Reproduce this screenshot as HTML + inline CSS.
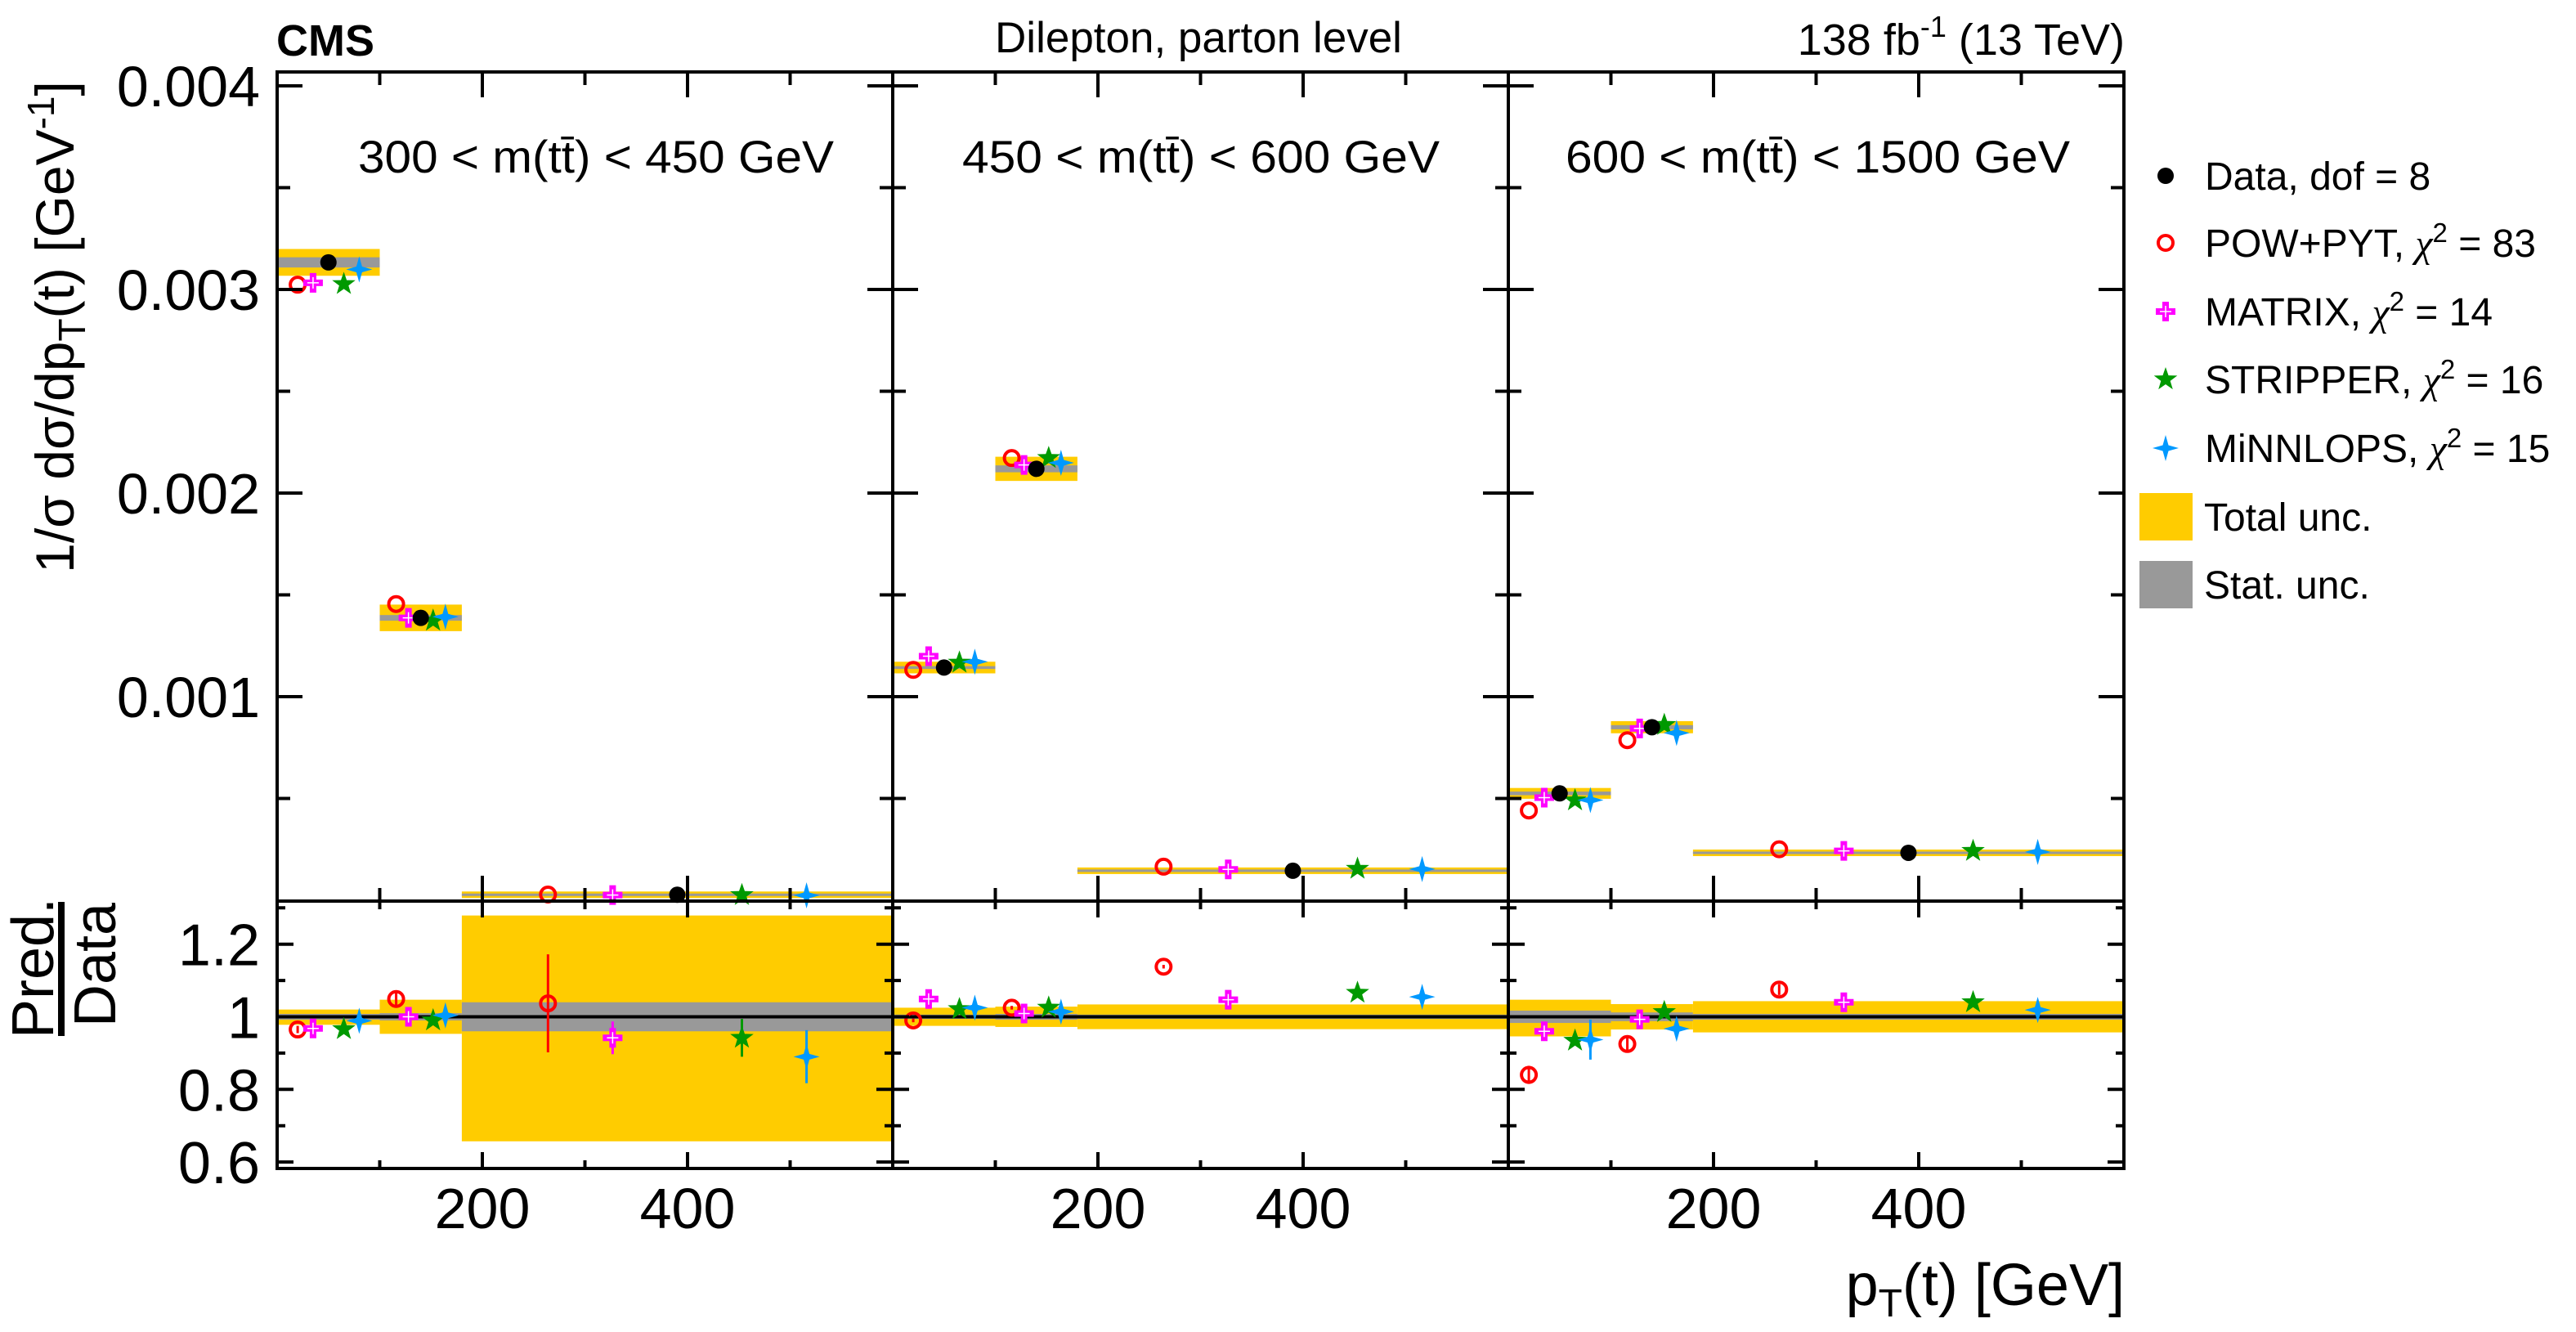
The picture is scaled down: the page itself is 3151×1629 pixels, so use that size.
<!DOCTYPE html>
<html><head><meta charset="utf-8"><style>
html,body{margin:0;padding:0;background:#fff;}
svg{display:block;font-family:"Liberation Sans",Arial,sans-serif;}
</style></head><body>
<svg id="chart" width="3151" height="1629" viewBox="0 0 3151 1629" xmlns="http://www.w3.org/2000/svg">
<g id="bands"></g>
<g id="marks"></g>
<g id="frames"></g>
<g id="labels">
<text x="338" y="68" font-size="54" font-weight="bold">CMS</text>
<text x="1466" y="64" font-size="53" text-anchor="middle">Dilepton, parton level</text>
<text x="2599" y="67" font-size="54" text-anchor="end">138 fb<tspan dy="-22" font-size="36">-1</tspan><tspan dy="22"> (13 TeV)</tspan></text>
<text transform="translate(90,400) rotate(-90)" font-size="66" text-anchor="middle">1/σ dσ/dp<tspan dy="14" font-size="46">T</tspan><tspan dy="-14">(t)  [GeV</tspan><tspan dy="-24" font-size="46">-1</tspan><tspan dy="24">]</tspan></text>
<text transform="translate(65,1184) rotate(-90)" font-size="72" text-anchor="middle">Pred.</text>
<rect x="71" y="1103" width="8" height="164" fill="#000"/>
<text transform="translate(141,1180) rotate(-90)" font-size="72" text-anchor="middle">Data</text>
<text x="2599" y="1596" font-size="72" text-anchor="end">p<tspan dy="14" font-size="48">T</tspan><tspan dy="-14">(t) [GeV]</tspan></text>
</g>
<g id="legend"></g>
</svg>
<script>
// ---- data ----
const panelLabels = ["300 < m(tt\u0304) < 450 GeV", "450 < m(tt\u0304) < 600 GeV", "600 < m(tt\u0304) < 1500 GeV"];
const binEdges = [0, 100, 180, 600];
const dataValues = [[0.003133, 0.001387, 0.000027], [0.001143, 0.002119, 0.000145], [0.000525, 0.00085, 0.000233]];
const totalUp = [[0.02, 0.047, 0.279], [0.025, 0.028, 0.034], [0.047, 0.035, 0.043]];
const totalDown = [[0.022, 0.047, 0.343], [0.025, 0.028, 0.034], [0.054, 0.035, 0.043]];
const statUnc = [[0.008, 0.01, 0.04], [0.006, 0.008, 0.006], [0.017, 0.012, 0.008]];
const powRatio = [[0.965, 1.049, 1.037], [0.99, 1.025, 1.138], [0.84, 0.925, 1.075]];
const matrixRatio = [[0.968, 1.0, 0.942], [1.049, 1.009, 1.047], [0.96, 0.993, 1.04]];
const stripperRatio = [[0.966, 0.99, 0.942], [1.021, 1.025, 1.066], [0.934, 1.013, 1.04]];
const minnlopsRatio = [[0.989, 1.004, 0.89], [1.025, 1.014, 1.055], [0.937, 0.967, 1.019]];
const powErr = [[0.01, 0.02, 0.135], [0.005, 0.005, 0.005], [0.025, 0.018, 0.015]];
const matrixErr = [[0.005, 0.005, 0.045], [0.005, 0.005, 0.005], [0.01, 0.005, 0.005]];
const stripperErr = [[0.005, 0.005, 0.052], [0.005, 0.005, 0.005], [0.01, 0.005, 0.005]];
const minnlopsErr = [[0.01, 0.02, 0.073], [0.005, 0.005, 0.005], [0.055, 0.01, 0.005]];
const yTicksTop = [0.001, 0.002, 0.003, 0.004];
const yTicksRatio = [0.6, 0.8, 1, 1.2];
const xTickLabels = [200, 400];
const legendLabels = ["Data, dof = 8", "POW+PYT, ", "MATRIX, ", "STRIPPER, ", "MiNNLOPS, "];
const chi2Values = [null, 83, 14, 16, 15];

// ---- geometry ----
const NS = "http://www.w3.org/2000/svg";
const panelX0 = [339, 1092, 1845], panelW = 753, xMax = 600;
const topY0 = 88, topY1 = 1102, ratioY1 = 1429;
const xs = (p, v) => panelX0[p] + v / xMax * panelW;
const yTop = v => 1101 - v * 249000;
const yRat = r => 1243.5 - (r - 1) * 444;
const YELLOW = "#ffcc00", GRAY = "#999999";
const models = [
  {r: powRatio, e: powErr, color: "#ff0000", shape: "circle", frac: 0.2, name: "pow-pyt"},
  {r: matrixRatio, e: matrixErr, color: "#ff00ff", shape: "cross", frac: 0.35, name: "matrix"},
  {r: stripperRatio, e: stripperErr, color: "#009900", shape: "star", frac: 0.65, name: "stripper"},
  {r: minnlopsRatio, e: minnlopsErr, color: "#0099ff", shape: "star4", frac: 0.8, name: "minnlops"}
];
function el(tag, attrs, parent) {
  const e = document.createElementNS(NS, tag);
  for (const k in attrs) e.setAttribute(k, attrs[k]);
  parent.appendChild(e); return e;
}
const bands = document.getElementById("bands"), marks = document.getElementById("marks"),
      frames = document.getElementById("frames"), labels = document.getElementById("labels"),
      legend = document.getElementById("legend");

function marker(shape, color, x, y, parent) {
  let m;
  if (shape === "dot") m = el("circle", {cx: x, cy: y, r: 10, fill: "#000"}, parent);
  else if (shape === "circle") m = el("circle", {cx: x, cy: y, r: 9, fill: "none", stroke: color, "stroke-width": 4}, parent);
  else if (shape === "cross") {
    m = el("g", {}, parent);
    el("path", {d: `M${x-4},${y-12}h8v8h8v8h-8v8h-8v-8h-8v-8h8z`, fill: color}, m);
    el("path", {d: `M${x},${y-7}v14M${x-7},${y}h14`, stroke: "#fff", "stroke-width": 1.5}, m);
  } else if (shape === "star") {
    let d = "";
    for (let i = 0; i < 10; i++) {
      const a = -Math.PI / 2 + i * Math.PI / 5, rr = i % 2 ? 6 : 15;
      d += (i ? "L" : "M") + (x + rr * Math.cos(a)).toFixed(1) + "," + (y + rr * Math.sin(a)).toFixed(1);
    }
    m = el("path", {d: d + "Z", fill: color}, parent);
  } else {
    m = el("path", {d: `M${x},${y-16}L${x+3.5},${y-3.5}L${x+16},${y}L${x+3.5},${y+3.5}L${x},${y+16}L${x-3.5},${y+3.5}L${x-16},${y}L${x-3.5},${y-3.5}Z`, fill: color}, parent);
  }
  return m;
}

for (let p = 0; p < 3; p++) {
  for (let b = 0; b < 3; b++) {
    const xa = xs(p, binEdges[b]), xb = xs(p, binEdges[b + 1]), w = xb - xa;
    const d = dataValues[p][b];
    const yu = yTop(d * (1 + totalUp[p][b])), yd = yTop(d * (1 - totalDown[p][b]));
    const hT = Math.max(8, yd - yu), cy = yTop(d);
    let r = el("rect", {x: xa, y: Math.min(yu, cy - hT / 2), width: w, height: hT, fill: YELLOW}, bands);
    
    
    const ys1 = yTop(d * (1 + statUnc[p][b])), ys2 = yTop(d * (1 - statUnc[p][b]));
    const hS = Math.max(3, ys2 - ys1);
    r = el("rect", {x: xa, y: cy - hS / 2, width: w, height: hS, fill: GRAY}, bands);
    
    
    r = el("rect", {x: xa, y: yRat(1 + totalUp[p][b]), width: w, height: yRat(1 - totalDown[p][b]) - yRat(1 + totalUp[p][b]), fill: YELLOW}, bands);
    
    
    r = el("rect", {x: xa, y: yRat(1 + statUnc[p][b]), width: w, height: yRat(1 - statUnc[p][b]) - yRat(1 + statUnc[p][b]), fill: GRAY}, bands);
    
    
    for (const m of models) {
      const x = xa + w * m.frac, v = m.r[p][b], e = m.e[p][b];
      const ln = el("line", {x1: x, x2: x, y1: yRat(v + e), y2: yRat(v - e), stroke: m.color, "stroke-width": 3}, marks);
      
      
      const mk = marker(m.shape, m.color, x, yRat(v), marks);
      
      
      const mt = marker(m.shape, m.color, x, yTop(d * v), marks);
      
      
    }
    const dm = marker("dot", "#000", xa + w * 0.5, yTop(d), marks);
    
    
  }
  const one = el("line", {x1: panelX0[p], x2: panelX0[p] + panelW, y1: yRat(1), y2: yRat(1), stroke: "#000", "stroke-width": 4}, bands);
  
  

  const x0 = panelX0[p], x1 = x0 + panelW;
  const f1 = el("rect", {x: x0, y: topY0, width: panelW, height: topY1 - topY0, fill: "none", stroke: "#000", "stroke-width": 4}, frames);
  
  
  const f2 = el("rect", {x: x0, y: topY1, width: panelW, height: ratioY1 - topY1, fill: "none", stroke: "#000", "stroke-width": 4}, frames);
  
  
  let dt = "";
  for (let v = 0.0005; v < 0.0041; v += 0.0005) {
    const y = yTop(v), L = Math.abs(v * 1000 - Math.round(v * 1000)) < 1e-6 ? 31 : 16;
    dt += `M${x0},${y}h${L}M${x1},${y}h${-L}`;
  }
  for (let v = 0.6; v < 1.31; v += 0.1) {
    const y = yRat(v), L = Math.round(v * 10) % 2 === 0 ? 20 : 10;
    dt += `M${x0},${y}h${L}M${x1},${y}h${-L}`;
  }
  for (let g = 100; g < 600; g += 100) {
    const x = xs(p, g), big = g % 200 === 0;
    dt += `M${x},${topY0}v${big ? 31 : 16}M${x},${topY1}v${big ? -31 : -16}M${x},${topY1}v${big ? 20 : 10}M${x},${ratioY1}v${big ? -20 : -10}`;
  }
  const tk = el("path", {d: dt, stroke: "#000", "stroke-width": 4, fill: "none"}, frames);
  
  

  for (const t of xTickLabels) {
    const tx = el("text", {x: xs(p, t), y: 1502, "font-size": 70, "text-anchor": "middle"}, labels);
    tx.textContent = t;
    
    
  }
  const pl = el("text", {x: [438, 1177, 1915][p], y: 211, "font-size": 56, textLength: [582, 584, 617][p], lengthAdjust: "spacingAndGlyphs"}, labels);
  pl.textContent = panelLabels[p];
  
  
}
for (const t of yTicksTop) {
  const tx = el("text", {x: 318, y: yTop(t) + 25, "font-size": 70, "text-anchor": "end"}, labels);
  tx.textContent = t.toFixed(3);
  
  
}
for (const t of yTicksRatio) {
  const tx = el("text", {x: 318, y: yRat(t) + 26, "font-size": 72, "text-anchor": "end"}, labels);
  tx.textContent = String(t);
  
  
}
const legShapes = ["dot", "circle", "cross", "star", "star4"], legColors = ["#000", "#ff0000", "#ff00ff", "#009900", "#0099ff"];
const legY = [215, 297, 381, 464, 548];
for (let i = 0; i < 5; i++) {
  const g = el("g", {}, legend);
  
  
  marker(legShapes[i], legColors[i], 2649, legY[i], g);
  const t = el("text", {x: 2697, y: legY[i] + 17, "font-size": 48}, g);
  t.textContent = legendLabels[i];
  if (chi2Values[i] !== null) {
    const s1 = el("tspan", {"font-family": "Liberation Serif, serif", "font-style": "italic"}, t); s1.textContent = "χ";
    const s2 = el("tspan", {dy: -18, "font-size": 33}, t); s2.textContent = "2";
    const s3 = el("tspan", {dy: 18}, t); s3.textContent = " = " + chi2Values[i];
  }
}
const boxes = [[603, YELLOW, "Total unc."], [686, GRAY, "Stat. unc."]];
for (const [y, c, txt] of boxes) {
  const g = el("g", {}, legend);
  
  
  el("rect", {x: 2617, y: y, width: 65, height: 58, fill: c}, g);
  const t = el("text", {x: 2696, y: y + 46, "font-size": 48}, g);
  t.textContent = txt;
}
</script>
</body></html>
